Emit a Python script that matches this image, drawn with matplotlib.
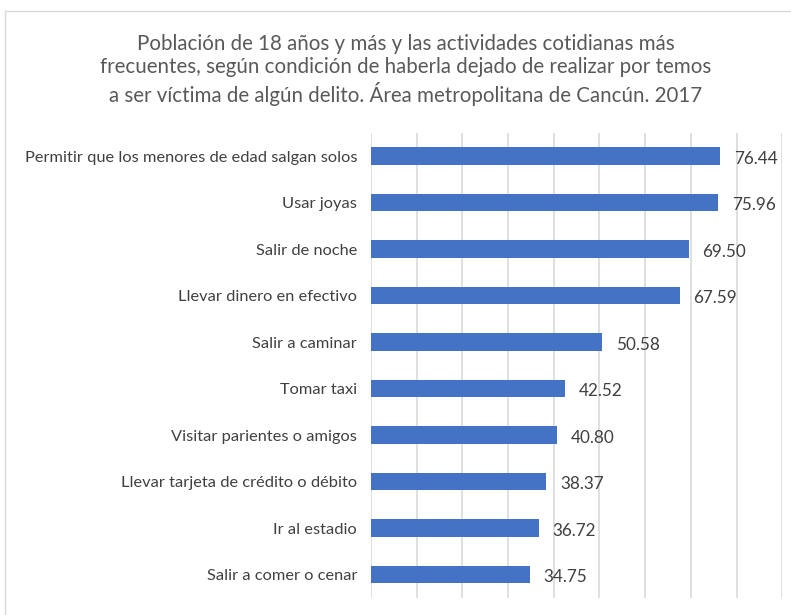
import matplotlib.pyplot as plt
from matplotlib.patches import Rectangle

plt.rcParams['font.family'] = ['Lato', 'DejaVu Sans']

actividades = ['Permitir que los menores de edad salgan solos', 'Usar joyas',
               'Salir de noche', 'Llevar dinero en efectivo', 'Salir a caminar',
               'Tomar taxi', 'Visitar parientes o amigos',
               'Llevar tarjeta de crédito o débito', 'Ir al estadio',
               'Salir a comer o cenar']
porcentajes = [76.44, 75.96, 69.50, 67.59, 50.58, 42.52, 40.80, 38.37, 36.72, 34.75]

titulo = ('Población de 18 años y más y las actividades cotidianas más\n'
          'frecuentes, según condición de haberla dejado de realizar por temos\n'
          'a ser víctima de algún delito. Área metropolitana de Cancún. 2017')

gris = '#595959'

fig = plt.figure(figsize=(7.91, 6.15), dpi=100)
ax = fig.add_axes([0.469, 0.028, 0.52, 0.756])

y = list(range(len(actividades)))
ax.barh(y, porcentajes, height=0.37, color='#4472C4', zorder=3)
for yi, v in zip(y, porcentajes):
    ax.text(v + 3.0, yi + 0.06, f'{v:.2f}', va='center', ha='left',
            fontsize=12.3, color='#404040')

ax.set_yticks(y)
ax.set_yticklabels(actividades, fontsize=11.8, color='#404040')
ax.set_ylim(len(actividades) - 0.5, -0.5)
ax.set_xlim(0, 90)
ax.set_xticks(range(0, 91, 10))
ax.tick_params(axis='x', length=0, labelbottom=False)
ax.tick_params(axis='y', length=0, pad=10)
ax.grid(axis='x', color='#d9d9d9', linewidth=1.2, zorder=0)
for s in ax.spines.values():
    s.set_visible(False)

fig.text(0.513, 0.945, titulo, ha='center', va='top', fontsize=14.8,
         color=gris, linespacing=1.22)

fig.patches.append(Rectangle((5 / 791, -0.01), 1.0, 1 - 11 / 615 + 0.01,
                             transform=fig.transFigure, fill=False,
                             edgecolor='#d9d9d9', linewidth=1))

fig.savefig('out.png', dpi=100)
